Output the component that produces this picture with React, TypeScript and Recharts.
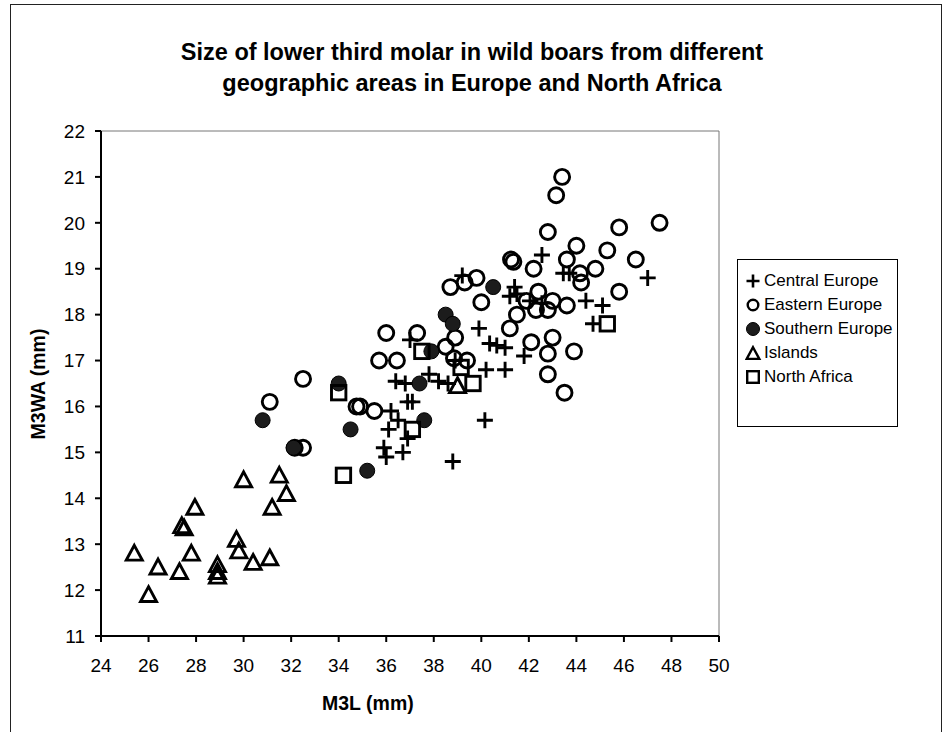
import { ScatterChart, Scatter, XAxis, YAxis, ReferenceLine } from "recharts";

const FONT = "'Liberation Sans', Arial, Helvetica, sans-serif";

const xTicks = [24, 26, 28, 30, 32, 34, 36, 38, 40, 42, 44, 46, 48, 50];
const yTicks = [11, 12, 13, 14, 15, 16, 17, 18, 19, 20, 21, 22];

type Pt = [number, number];

// M3L, M3WA (mm)
const centralEurope: Pt[] = [
  [35.9, 15.1], [36.0, 14.9], [36.7, 15.0], [36.9, 15.3], [36.1, 15.5],
  [36.5, 15.7], [36.2, 15.9], [36.9, 16.1], [37.1, 16.1], [36.4, 16.55],
  [36.8, 16.5], [37.8, 16.7], [38.2, 16.55], [38.6, 16.5], [37.0, 17.45],
  [38.8, 14.8], [40.15, 15.7], [40.2, 16.8], [41.0, 16.8], [39.9, 17.7],
  [40.35, 17.37], [40.65, 17.33], [41.0, 17.28], [41.8, 17.1], [39.2, 18.85],
  [41.2, 18.4], [41.5, 18.45], [42.05, 18.3], [42.55, 18.25], [42.55, 19.3],
  [43.45, 18.9], [43.7, 18.9], [44.4, 18.3], [45.1, 18.2], [44.7, 17.8],
  [47.0, 18.8], [38.9, 17.0], [41.4, 18.6],
];

const easternEurope: Pt[] = [
  [31.1, 16.1], [32.5, 16.6], [32.15, 15.1], [32.5, 15.1], [34.75, 16.0],
  [34.9, 16.0], [35.5, 15.9], [35.7, 17.0], [36.45, 17.0], [36.0, 17.6],
  [37.3, 17.6], [38.5, 17.3], [38.9, 17.5], [38.85, 17.05], [39.4, 17.0],
  [38.7, 18.6], [39.3, 18.7], [39.8, 18.8], [40.0, 18.27], [41.25, 19.2],
  [41.35, 19.15], [42.2, 19.0], [42.8, 19.8], [43.15, 20.6], [43.4, 21.0],
  [43.6, 19.2], [44.0, 19.5], [45.3, 19.4], [45.8, 19.9], [47.5, 20.0],
  [46.5, 19.2], [44.15, 18.9], [44.2, 18.7], [44.8, 19.0], [45.8, 18.5],
  [42.4, 18.5], [41.9, 18.3], [43.0, 18.3], [43.6, 18.2], [42.8, 18.1],
  [42.3, 18.1], [41.5, 18.0], [41.2, 17.7], [42.1, 17.4], [43.0, 17.5],
  [42.8, 17.15], [43.9, 17.2], [42.8, 16.7], [43.5, 16.3],
];

const southernEurope: Pt[] = [
  [30.8, 15.7], [32.1, 15.1], [34.0, 16.5], [34.5, 15.5], [35.2, 14.6],
  [37.4, 16.5], [37.6, 15.7], [37.9, 17.2], [38.5, 18.0], [38.8, 17.8],
  [40.5, 18.6],
];

const islands: Pt[] = [
  [25.4, 12.8], [26.0, 11.9], [26.4, 12.5], [27.3, 12.4], [27.4, 13.4],
  [27.5, 13.35], [27.8, 12.8], [27.95, 13.8], [28.9, 12.55], [28.9, 12.4],
  [28.9, 12.3], [29.7, 13.1], [29.8, 12.85], [30.0, 14.4], [30.4, 12.6],
  [31.1, 12.7], [31.2, 13.8], [31.5, 14.5], [31.8, 14.1], [39.0, 16.45],
];

const northAfrica: Pt[] = [
  [34.0, 16.3], [34.2, 14.5], [37.5, 17.2], [37.1, 15.5], [39.15, 16.85],
  [39.65, 16.5], [45.3, 17.8],
];

const toXY = (pts: Pt[]) => pts.map(([x, y]) => ({ x, y }));

const SW = 2.9;

function PlusMark({ cx, cy, s = 8, w = SW }: { cx: number; cy: number; s?: number; w?: number }) {
  return (
    <path
      d={`M${cx - s},${cy}H${cx + s}M${cx},${cy - s}V${cy + s}`}
      stroke="#000"
      strokeWidth={w}
      fill="none"
    />
  );
}

function OpenCircle({ cx, cy, r = 7.5, w = SW }: { cx: number; cy: number; r?: number; w?: number }) {
  return <circle cx={cx} cy={cy} r={r} stroke="#000" strokeWidth={w} fill="none" />;
}

function FilledCircle({ cx, cy, r = 7.5 }: { cx: number; cy: number; r?: number }) {
  return <circle cx={cx} cy={cy} r={r} stroke="#000" strokeWidth={1} fill="#1c1c1c" />;
}

function TriangleMark({ cx, cy, s = 8, w = SW }: { cx: number; cy: number; s?: number; w?: number }) {
  return (
    <path
      d={`M${cx},${cy - s}L${cx + s},${cy + s * 0.85}L${cx - s},${cy + s * 0.85}Z`}
      stroke="#000"
      strokeWidth={w}
      fill="none"
      strokeLinejoin="miter"
    />
  );
}

function SquareMark({ cx, cy, s = 7.2, w = SW }: { cx: number; cy: number; s?: number; w?: number }) {
  return (
    <rect x={cx - s} y={cy - s} width={s * 2} height={s * 2} stroke="#000" strokeWidth={w} fill="none" />
  );
}

const legendItems = [
  { name: "Central Europe", icon: <PlusMark cx={8} cy={8} s={6.5} w={2.6} /> },
  { name: "Eastern Europe", icon: <OpenCircle cx={8} cy={8} r={5.3} w={2.4} /> },
  { name: "Southern Europe", icon: <FilledCircle cx={8} cy={8} r={6.5} /> },
  { name: "Islands", icon: <TriangleMark cx={8} cy={8.5} s={6.3} w={2.4} /> },
  { name: "North Africa", icon: <SquareMark cx={8} cy={8} s={5.8} w={2.4} /> },
];

const tickStyle = { fontSize: 19, fill: "#000", fontFamily: FONT };

export default function App() {
  return (
    <div
      style={{
        position: "absolute",
        left: 0,
        top: 0,
        width: 944,
        height: 732,
        overflow: "hidden",
        background: "#fff",
        fontFamily: FONT,
      }}
    >
      <div
        style={{
          position: "absolute",
          left: 10,
          top: 4,
          width: 930,
          height: 760,
          border: "1px solid #222",
        }}
      />
      <div
        style={{
          position: "absolute",
          left: 0,
          top: 37,
          width: 944,
          textAlign: "center",
          fontWeight: "bold",
          fontSize: 23.5,
          lineHeight: "31px",
          color: "#000",
        }}
      >
        Size of lower third molar in wild boars from different
        <br />
        geographic areas in Europe and North Africa
      </div>

      <ScatterChart
        width={944}
        height={732}
        margin={{ top: 131, right: 225, bottom: 56, left: 41 }}
        style={{ position: "absolute", left: 0, top: 0 }}
      >
        <XAxis
          type="number"
          dataKey="x"
          domain={[24, 50]}
          ticks={xTicks}
          allowDataOverflow
          height={40}
          tick={tickStyle}
          tickSize={6}
          tickMargin={17}
          stroke="#000"
          strokeWidth={2}
        />
        <YAxis
          type="number"
          dataKey="y"
          domain={[11, 22]}
          ticks={yTicks}
          allowDataOverflow
          width={60}
          tick={tickStyle}
          tickSize={6}
          tickMargin={10}
          stroke="#000"
          strokeWidth={2}
        />
        <ReferenceLine y={22} stroke="#777" strokeWidth={1} />
        <ReferenceLine x={50} stroke="#777" strokeWidth={1} />
        <Scatter
          name="Central Europe"
          data={toXY(centralEurope)}
          isAnimationActive={false}
          shape={(p: any) => <PlusMark cx={p.cx} cy={p.cy} />}
        />
        <Scatter
          name="Eastern Europe"
          data={toXY(easternEurope)}
          isAnimationActive={false}
          shape={(p: any) => <OpenCircle cx={p.cx} cy={p.cy} />}
        />
        <Scatter
          name="Southern Europe"
          data={toXY(southernEurope)}
          isAnimationActive={false}
          shape={(p: any) => <FilledCircle cx={p.cx} cy={p.cy} />}
        />
        <Scatter
          name="Islands"
          data={toXY(islands)}
          isAnimationActive={false}
          shape={(p: any) => <TriangleMark cx={p.cx} cy={p.cy} />}
        />
        <Scatter
          name="North Africa"
          data={toXY(northAfrica)}
          isAnimationActive={false}
          shape={(p: any) => <SquareMark cx={p.cx} cy={p.cy} />}
        />
      </ScatterChart>

      <div
        style={{
          position: "absolute",
          left: 322,
          top: 692,
          width: 90,
          textAlign: "center",
          fontWeight: "bold",
          fontSize: 19.5,
          whiteSpace: "nowrap",
        }}
      >
        M3L (mm)
      </div>
      <div
        style={{
          position: "absolute",
          left: 38,
          top: 384,
          transform: "translate(-50%, -50%) rotate(-90deg)",
          fontWeight: "bold",
          fontSize: 19.5,
          whiteSpace: "nowrap",
        }}
      >
        M3WA (mm)
      </div>

      {/* legend */}
      <div
        style={{
          position: "absolute",
          left: 737,
          top: 259,
          width: 161,
          height: 168,
          border: "1px solid #000",
          boxSizing: "border-box",
          paddingTop: 9,
        }}
      >
        {legendItems.map((it) => (
          <div
            key={it.name}
            style={{
              display: "flex",
              alignItems: "center",
              height: 24,
              fontSize: 17,
              paddingLeft: 7,
              whiteSpace: "nowrap",
            }}
          >
            <svg width={17} height={17} style={{ marginRight: 2, flexShrink: 0 }}>
              {it.icon}
            </svg>
            {it.name}
          </div>
        ))}
      </div>
    </div>
  );
}
